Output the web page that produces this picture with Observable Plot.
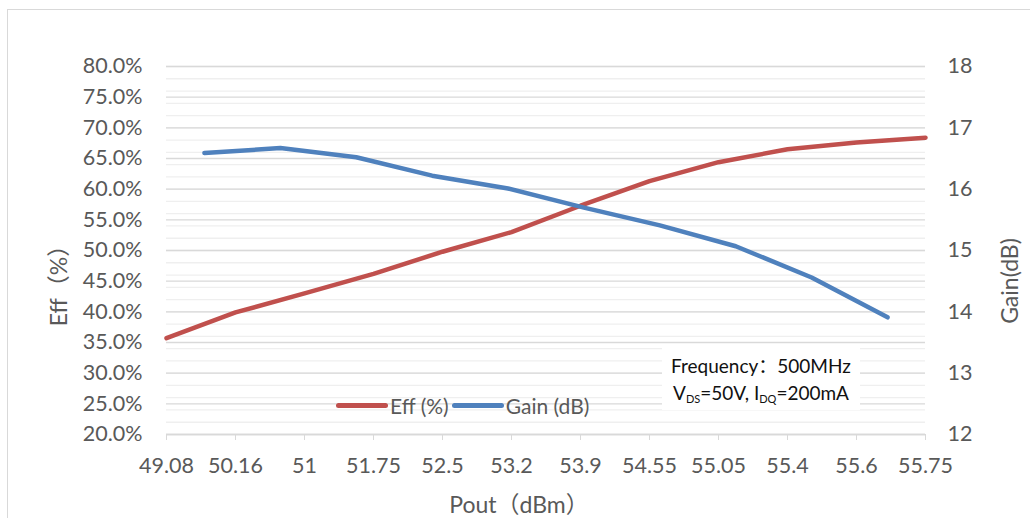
<!DOCTYPE html>
<html>
<head>
<meta charset="utf-8">
<script src="https://cdn.jsdelivr.net/npm/d3@7"></script>
<script src="https://cdn.jsdelivr.net/npm/@observablehq/plot@0.6"></script>
<style>
  body { margin: 0; background: #fff; font-family: Lato, "Noto Sans", "Noto Sans CJK SC", sans-serif; }
  #wrap { position: relative; width: 1030px; height: 518px; overflow: hidden; }
  #border { position: absolute; left: 7px; top: 9px; width: 1040px; height: 540px; border: 1.5px solid #d9d9d9; box-sizing: border-box; }
  #chart { position: absolute; left: 0; top: 0; }
  .title { position: absolute; color: #595959; font-size: 23px; white-space: nowrap; transform: translate(-50%, -50%); }
  .rot { transform: translate(-50%, -50%) rotate(-90deg); }
  #legend { position: absolute; left: 336px; top: 393px; display: flex; align-items: center; color: #595959; font-size: 21px; white-space: nowrap; }
  .sw { display: inline-block; width: 52px; height: 5px; border-radius: 3px; margin-right: 2px; }
  #note { position: absolute; left: 662px; top: 347px; width: 198px; height: 63px; background: #fff; color: #111; font-size: 19px; text-align: center; line-height: 27px; padding-top: 5px; box-sizing: border-box; }
  #note sub { font-size: 11px; vertical-align: -3px; }
</style>
</head>
<body>
<div id="wrap">
  <div id="border"></div>
  <div id="chart"></div>
  <div class="title rot" style="left:57px; top:280px;">Eff（%）</div>
  <div class="title rot" style="left:1009px; top:281px;">Gain(dB)</div>
  <div class="title" style="left:519px; top:503px;">Pout（dBm）</div>
  <div id="legend">
    <span class="sw" style="background:#C0504D"></span><span style="margin-right:3px">Eff (%)</span>
    <span class="sw" style="background:#4F81BD"></span><span>Gain (dB)</span>
  </div>
  <div id="note">Frequency：500MHz<br>V<sub>DS</sub>=50V, I<sub>DQ</sub>=200mA</div>
</div>
<script>
// Data
const poutLabels = ["49.08", "50.16", "51", "51.75", "52.5", "53.2", "53.9", "54.55", "55.05", "55.4", "55.6", "55.75"];
const effValues = [35.7, 39.9, 43.0, 46.2, 49.8, 53.0, 57.3, 61.3, 64.4, 66.5, 67.6, 68.4]; // %
const gainValues = [16.59, 16.67, 16.52, 16.22, 16.01, 15.70, 15.41, 15.07, 14.56, 13.91]; // dB
const effTicks = [20, 25, 30, 35, 40, 45, 50, 55, 60, 65, 70, 75, 80];
const gainTicks = [12, 13, 14, 15, 16, 17, 18];

// Gain (12..18 dB) mapped onto the Eff axis (20..80 %)
const g2y = g => 20 + (g - 12) * 10;
const gainMinor = d3.range(12, 18.0001, 0.2);

const nCat = poutLabels.length;
const effData = effValues.map((v, i) => ({x: i, y: v}));
// Gain series sits on its own category axis (10 points, between-tick placement)
const gainData = gainValues.map((g, j) => ({x: (j + 0.5) * (nCat - 1) / gainValues.length, y: g2y(g)}));

const tickFont = 21.5;
const chart = Plot.plot({
  width: 1030,
  height: 518,
  marginLeft: 166,
  marginRight: 105,
  marginTop: 66,
  marginBottom: 84,
  style: {background: "transparent", fontFamily: "Lato, 'Noto Sans', sans-serif", color: "#595959"},
  x: {domain: [0, nCat - 1]},
  y: {domain: [20, 80]},
  marks: [
    Plot.ruleY(gainMinor.map(g2y), {stroke: "#efefef", strokeWidth: 1.3}),
    Plot.ruleY(effTicks, {stroke: "#d9d9d9", strokeWidth: 1.3}),
    Plot.ruleY([20], {stroke: "#d9d9d9", strokeWidth: 1.5}),
    Plot.axisX(d3.range(nCat), {tickFormat: i => poutLabels[i], tickSize: 6, stroke: "#d9d9d9", tickPadding: 17, fontSize: tickFont, fill: "#595959", label: null}),
    Plot.axisY(effTicks, {anchor: "left", tickFormat: d => d.toFixed(1) + "%", tickSize: 0, tickPadding: 24, fontSize: tickFont, fill: "#595959", label: null}),
    Plot.axisY(gainTicks.map(g2y), {anchor: "right", tickFormat: d => String(Math.round((d - 20) / 10 + 12)), tickSize: 0, tickPadding: 22, fontSize: tickFont, fill: "#595959", label: null}),
    Plot.line(effData, {x: "x", y: "y", stroke: "#C0504D", strokeWidth: 4.5, strokeLinecap: "round", strokeLinejoin: "round"}),
    Plot.line(gainData, {x: "x", y: "y", stroke: "#4F81BD", strokeWidth: 4.5, strokeLinecap: "round", strokeLinejoin: "round"})
  ]
});
document.getElementById("chart").appendChild(chart);
</script>
</body>
</html>
